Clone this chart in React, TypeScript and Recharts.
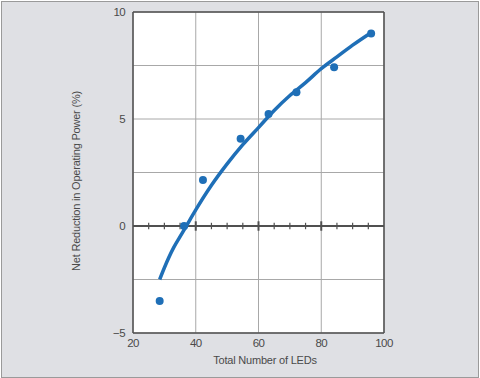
import React from "react";
import {
  ComposedChart,
  XAxis,
  YAxis,
  CartesianGrid,
  Line,
  Scatter,
  ReferenceLine,
} from "recharts";

// Measured data points
const ledCounts = [28.5, 36.3, 42.3, 54.3, 63.2, 72.1, 84.1, 95.9];
const reductions = [-3.5, 0.0, 2.15, 4.08, 5.23, 6.25, 7.42, 9.0];

// Fitted trend curve
const curveX = [28.5, 30, 33, 35, 37, 40, 45, 50, 55, 60, 65, 70, 75, 80, 85, 90, 95.5];
const curveY = [-2.5, -1.95, -1.0, -0.5, 0.0, 0.75, 1.9, 2.9, 3.8, 4.6, 5.4, 6.1, 6.7, 7.35, 7.9, 8.45, 9.0];

// Axis ticks
const xTicks = [20, 40, 60, 80, 100];
const yTicks = [-5, -2.5, 0, 2.5, 5, 7.5, 10];
const zeroLineTicks = [25, 30, 35, 40, 45, 50, 55, 60, 65, 70, 75, 80, 85, 90, 95];
const majorZeroTicks = [40, 60, 80];

const xLabel = "Total Number of LEDs";
const yLabel = "Net Reduction in Operating Power (%)";

const pointData = ledCounts.map((x, i) => ({ x, y: reductions[i] }));
const curveData = curveX.map((x, i) => ({ x, y: curveY[i] }));

const BLUE = "#1f6fb7";
const DARK = "#505050";
const TEXT = "#4a4a4a";
const FONT = "'Liberation Sans', Arial, sans-serif";

const fmtY = (v: number) => {
  if (v % 5 !== 0) return "";
  return v < 0 ? "\u2212" + Math.abs(v) : String(v);
};

const Dot = (props: any) => {
  const { cx, cy } = props;
  if (cx == null || cy == null) return null;
  return <circle cx={cx} cy={cy} r={4} fill={BLUE} />;
};

export default function App() {
  return (
    <div style={{ position: "absolute", left: 0, top: 0, width: 480, height: 378, background: "#fff" }}>
      <div
        style={{
          position: "absolute",
          left: 1,
          top: 1,
          width: 476,
          height: 375,
          background: "#dfe0e4",
          border: "1px solid #9a9a9a",
        }}
      />
      <div style={{ position: "absolute", left: 0, top: 0 }}>
        <ComposedChart
          width={480}
          height={378}
          margin={{ top: 12, right: 96, bottom: 15, left: 0 }}
        >
          <CartesianGrid fill="#ffffff" stroke="#a8a8a8" strokeWidth={1} />
          <XAxis
            type="number"
            dataKey="x"
            domain={[20, 100]}
            ticks={xTicks}
            allowDataOverflow
            height={30}
            tickLine={false}
            tickMargin={0}
            axisLine={{ stroke: DARK, strokeWidth: 1.5 }}
            tick={{ fill: TEXT, fontSize: 11.5, fontFamily: FONT, letterSpacing: -0.6 }}
            label={{
              content: () => (
                <text
                  x={265}
                  y={360}
                  textAnchor="middle"
                  dominantBaseline="central"
                  fill={TEXT}
                  fontSize={11}
                  letterSpacing={-0.2}
                  fontFamily={FONT}
                >
                  {xLabel}
                </text>
              ),
            }}
          />
          <YAxis
            type="number"
            dataKey="y"
            domain={[-5, 10]}
            ticks={yTicks}
            allowDataOverflow
            width={133}
            tickLine={false}
            tickFormatter={fmtY}
            axisLine={{ stroke: DARK, strokeWidth: 1.5 }}
            tick={{ fill: TEXT, fontSize: 11.5, fontFamily: FONT, letterSpacing: -0.6 }}
            label={{
              content: () => (
                <text
                  x={76}
                  y={181}
                  transform="rotate(-90 76 181)"
                  textAnchor="middle"
                  dominantBaseline="central"
                  fill={TEXT}
                  fontSize={11}
                  letterSpacing={-0.2}
                  fontFamily={FONT}
                >
                  {yLabel}
                </text>
              ),
            }}
          />
          <ReferenceLine y={10} stroke={DARK} strokeWidth={1.5} />
          <ReferenceLine x={100} stroke={DARK} strokeWidth={1.5} />
          <ReferenceLine y={0} stroke={DARK} strokeWidth={2} />
          {zeroLineTicks.map((t) => {
            const major = majorZeroTicks.includes(t);
            const h = major ? 0.22 : 0.15;
            return (
              <ReferenceLine
                key={t}
                segment={[
                  { x: t, y: -h },
                  { x: t, y: h },
                ]}
                stroke={DARK}
                strokeWidth={major ? 2 : 1.2}
              />
            );
          })}
          <Scatter
            data={pointData}
            dataKey="y"
            fill={BLUE}
            shape={Dot}
            isAnimationActive={false}
          />
          <Line
            data={curveData}
            dataKey="y"
            type="monotone"
            stroke={BLUE}
            strokeWidth={3.5}
            dot={false}
            activeDot={false}
            isAnimationActive={false}
          />
        </ComposedChart>
      </div>
    </div>
  );
}
